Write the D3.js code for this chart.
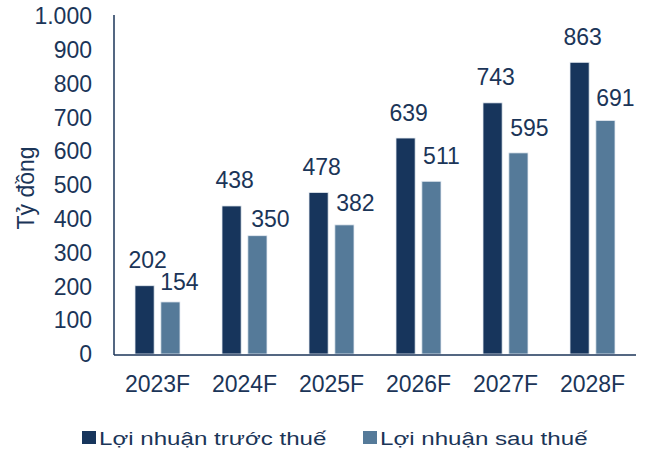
<!DOCTYPE html>
<html>
<head>
<meta charset="utf-8">
<script src="https://cdn.jsdelivr.net/npm/d3@7"></script>
<style>
  body { margin: 0; background: #fff; }
  text { font-family: "Liberation Sans", Arial, sans-serif; fill: #1b3558; }
</style>
</head>
<body>
<div id="chart-area"></div>
<script>
// data
var years = ["2023F", "2024F", "2025F", "2026F", "2027F", "2028F"];
var truocThue = [202, 438, 478, 639, 743, 863];
var sauThue = [154, 350, 382, 511, 595, 691];
var seriesNames = ["Lợi nhuận trước thuế", "Lợi nhuận sau thuế"];
var yTicks = [0, 100, 200, 300, 400, 500, 600, 700, 800, 900, 1000];

var colors = ["#17355c", "#557a99"];
var textColor = "#1b3558";

// labels of the second series were nudged by hand in the original
var lightLabelDx = [9, 13, 11, 10, 11, 10];
var lightLabelGap = [12, 9, 14, 17.5, 16.5, 14];

var width = 649, height = 453;
var plotLeft = 114, plotRight = 636, plotTop = 16, plotBottom = 354;

var svg = d3.select("#chart-area").append("svg")
    .attr("width", width)
    .attr("height", height);

var x = d3.scaleBand().domain(years).range([plotLeft, plotRight]).paddingInner(0).paddingOuter(0);
var x1 = d3.scaleBand().domain([0, 1]).range([21, x.bandwidth() - 21]).paddingInner(0.26);
var y = d3.scaleLinear().domain([0, 1000]).range([plotBottom, plotTop]);

function fmt(v) {
    // vietnamese thousands separator
    return v >= 1000 ? d3.format(",")(v).replace(/,/g, ".") : String(v);
}

// y tick labels
svg.selectAll(".ytick")
    .data(yTicks)
    .enter()
    .append("text")
        .attr("class", "ytick")
        .attr("x", 92)
        .attr("y", function(d){ return y(d); })
        .attr("dy", "0.36em")
        .attr("text-anchor", "end")
        .attr("font-size", "23px")
        .text(fmt);

// axis title
svg.append("text")
    .attr("transform", "translate(34,188) rotate(-90)")
    .attr("text-anchor", "middle")
    .attr("font-size", "23px")
    .text("Tỷ đồng");

var series = [truocThue, sauThue];

series.forEach(function(vals, s){
    var g = svg.append("g");
    g.selectAll("rect")
        .data(vals)
        .enter()
        .append("rect")
            .attr("x", function(d, i){ return x(years[i]) + x1(s); })
            .attr("y", function(d){ return y(d); })
            .attr("width", x1.bandwidth())
            .attr("height", function(d){ return plotBottom - y(d); })
            .attr("fill", colors[s])
            .attr("stroke", "#e6ecf2")
            .attr("stroke-width", 0.8);

    g.selectAll("text")
        .data(vals)
        .enter()
        .append("text")
            .attr("x", function(d, i){
                var dx = s == 0 ? 3 : lightLabelDx[i];
                return x(years[i]) + x1(s) + x1.bandwidth() / 2 + dx;
            })
            .attr("y", function(d, i){
                var gap = s == 0 ? 17.5 : lightLabelGap[i];
                return y(d) - gap;
            })
            .attr("text-anchor", "middle")
            .attr("font-size", "23px")
            .text(function(d){ return d; });
});

// axis lines
svg.append("line")
    .attr("x1", plotLeft).attr("x2", plotLeft)
    .attr("y1", plotTop - 1).attr("y2", plotBottom + 1)
    .attr("stroke", textColor).attr("stroke-width", 1.5);
svg.append("line")
    .attr("x1", plotLeft).attr("x2", plotRight)
    .attr("y1", plotBottom + 1).attr("y2", plotBottom + 1)
    .attr("stroke", textColor).attr("stroke-width", 1.5);

// x labels
svg.selectAll(".xlab")
    .data(years)
    .enter()
    .append("text")
        .attr("class", "xlab")
        .attr("x", function(d){ return x(d) + x.bandwidth() / 2; })
        .attr("y", 392)
        .attr("text-anchor", "middle")
        .attr("font-size", "23px")
        .text(function(d){ return d; });

// legend (text is drawn a bit wider, like the original)
var legendX = [82, 363];
var legend = svg.selectAll(".legend")
    .data(seriesNames)
    .enter()
    .append("g")
        .attr("class", "legend")
        .attr("transform", function(d, i){ return "translate(" + legendX[i] + ",0)"; });
legend.append("rect")
    .attr("x", 0).attr("y", 431)
    .attr("width", 14).attr("height", 13)
    .attr("fill", function(d, i){ return colors[i]; });
legend.append("text")
    .attr("transform", "translate(17,445) scale(1.27,1)")
    .attr("font-size", "19px")
    .text(function(d){ return d; });
</script>
</body>
</html>
